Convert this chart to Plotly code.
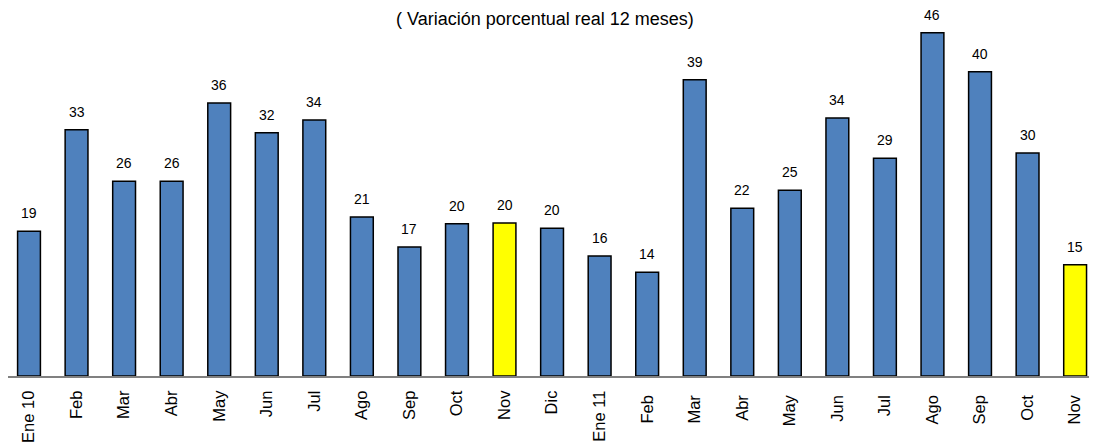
import plotly.graph_objects as go

categories = ["Ene 10", "Feb", "Mar", "Abr", "May", "Jun", "Jul", "Ago", "Sep", "Oct",
              "Nov", "Dic", "Ene 11", "Feb ", "Mar ", "Abr ", "May ", "Jun ", "Jul ",
              "Ago ", "Sep ", "Oct ", "Nov "]
values = [19.4, 33.0, 26.1, 26.1, 36.6, 32.6, 34.3, 21.3, 17.3, 20.4, 20.5, 19.8, 16.1,
          13.9, 39.7, 22.5, 24.9, 34.6, 29.2, 46.0, 40.8, 29.9, 14.9]
labels = ["19", "33", "26", "26", "36", "32", "34", "21", "17", "20", "20", "20", "16",
          "14", "39", "22", "25", "34", "29", "46", "40", "30", "15"]
highlight = ["Nov", "Nov "]
title_text = "( Variación porcentual real 12 meses)"

FONT = "Liberation Sans, Arial"
colors = ["#FFFF00" if c in highlight else "#4F81BD" for c in categories]

fig = go.Figure(go.Bar(
    x=categories, y=values,
    marker=dict(color=colors, line=dict(color="#000000", width=1.5)),
    width=0.48,
))

annotations = [dict(x=c, y=v, text=t, xref="x", yref="y", showarrow=False,
                    yanchor="bottom", yshift=8,
                    font=dict(family=FONT, size=14, color="#000000"))
               for c, v, t in zip(categories, values, labels)]
annotations.append(dict(text=title_text, xref="paper", yref="paper", x=0.493, y=1.0,
                        yanchor="top", yshift=1, showarrow=False,
                        font=dict(size=18, family=FONT, color="#000000")))

fig.update_layout(
    width=1089, height=437,
    margin=dict(l=0, r=0, t=0, b=69, autoexpand=False),
    plot_bgcolor="white", paper_bgcolor="white",
    showlegend=False,
    font=dict(family=FONT, size=15, color="#000000"),
    annotations=annotations,
)
fig.update_xaxes(type="category", tickangle=-90, showline=True, linecolor="#808080",
                 linewidth=2, ticks="", showgrid=False, automargin=False,
                 range=[-0.4416, 22.46], ticklabelstandoff=6,
                 tickfont=dict(size=16.5, family=FONT, color="#000000"))
fig.update_yaxes(range=[0, 49.33], visible=False, showgrid=False, automargin=False)

fig.write_html("out.html")
